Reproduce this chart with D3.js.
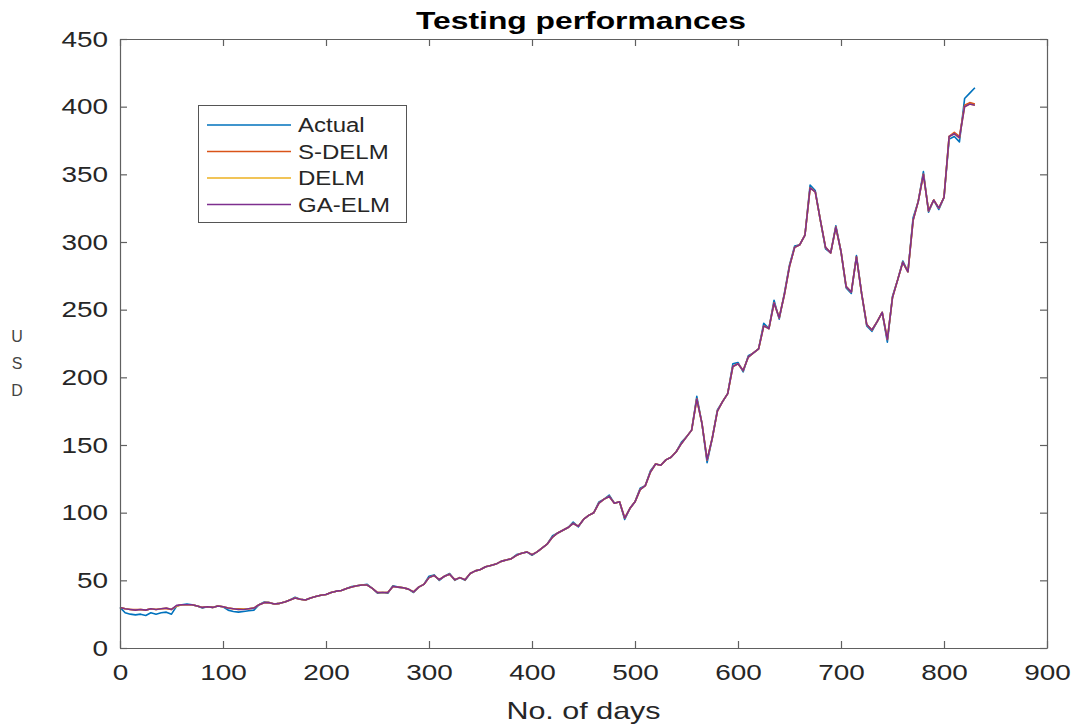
<!DOCTYPE html>
<html>
<head>
<meta charset="utf-8">
<script src="https://cdn.jsdelivr.net/npm/d3@7"></script>
<style>
  html, body { margin: 0; padding: 0; background: #fff; }
  svg { display: block; font-family: "Liberation Sans", Arial, sans-serif; }
</style>
</head>
<body>
<svg id="chart" width="1076" height="726"></svg>
<script>
// ---------------- DATA ----------------
const dayStep = 5;   // one sample every 5 days, starting at day 0
const seriesNames = ["Actual", "S-DELM", "DELM", "GA-ELM"];
const xTicks = [0, 100, 200, 300, 400, 500, 600, 700, 800, 900];
const yTicks = [0, 50, 100, 150, 200, 250, 300, 350, 400, 450];

const actual = [
  30,26,25,24.5,25,24,26,25,26,26.5,25,31,
  32,32.5,32,31,29.5,30.5,30,31,30.5,28,27,26.5,
  27,27.5,28,32,34,33.5,32.5,33,34,35.5,37.5,36,
  35.5,37,38,39,39.5,41,42,42.5,44,45.5,46,46.5,
  47,44,40.5,41,40.5,46,45,44.5,43.5,41,45,47,
  53,54,50,53,55,50,52,50,55,57,58,60,
  61,62,64,65,66,69,70,71,68.5,71,74,77,
  83,85,87,89,93,89.5,95,98,100,108,110,113,
  107,108,95,103,108,118,120,131,136,135,139,141,
  145,152,156,161,186,166,137,155,176,182,188,210,
  211,204,216,218,221,240,236,257,243,262,283,297,
  298,305,342,338,316,295,292,312,293,266,262,290,
  262,238,234,241,248,226,260,272,286,278,318,330,
  352,322,331,324,333,376,378,374,406,410,414
];
const sdelm = [
  30,29,28.5,28.5,28.5,28,29,28.5,29,29,28.5,31,
  32,32,32,31,30,30.5,30,31,30.5,29.5,29,29,
  29,29,29.5,32,33.5,33.5,32.5,33,34,35.5,37,36,
  35.5,37,38,39,39.5,41,42,42.5,44,45,46,46.5,
  46.5,44,41,41,41,45.5,45,44.5,43.5,41.5,45,47,
  52,53.5,50.5,53,54.5,50.5,52,50.5,55,57,58,60,
  61,62,64,65,66,68.5,70,71,69,71,74,77,
  82,85,87,89,92,90,95,98,100,107,110,112,
  107,108,96,103,108,117,120,130,136,135,139,141,
  145,151,156,161,184,166,139,155,175,182,188,208,
  210,205,215,218,221,238,236,255,244,261,282,296,
  298,305,340,337,316,296,292,311,293,267,263,289,
  262,239,235,241,248,228,259,272,285,278,316,330,
  350,323,331,325,333,378,381,378,401,403,402
];
const delm = [
  30,29,28.5,28,28.5,28,29,28.5,29,29.5,28.5,31,
  32,32,32,31,30,30.5,30,31,30.5,29.5,29,28.5,
  29,29,29.5,32,33.5,33.5,32.5,33,34,35.5,37,36,
  35.5,37,38,39,39.5,41,42,42.5,44,45,46,46.5,
  46.5,44,41,41,41,45.5,45,44.5,43.5,41.5,45,47,
  52,53.5,50.5,53,54.5,50.5,52,50.5,55,57,58,60,
  61,62,64,65,66,68.5,70,71,69,71,74,77,
  82,85,87,89,92,90,95,98,100,107,110,112,
  107,108,96,103,108,117,120,130,136,135,139,141,
  145,151,156,161,184,166,139,155,175,182,188,208,
  210,205,215,218,221,238,236,255,244,261,282,296,
  298,305,340,337,316,296,292,311,293,267,263,289,
  262,239,235,241,248,228,259,272,285,278,316,330,
  350,323,331,325,333,378,380,377,400,402,401
];
const gaelm = [
  30,29,28.5,28,28.5,28,29,28.5,29,29.5,28.5,31.5,
  32,32,32,31,30,30.5,30,31,30.5,29.5,29,28.5,
  28.5,29,29.5,32,33.5,33.5,32.5,33,34,35.5,37,36,
  35.5,37,38,39,39.5,41,42,42.5,44,45,46,46.5,
  46.5,44,41,41,41,45.5,45,44.5,43.5,41.5,45,47,
  52,53.5,50.5,53,54.5,50.5,52,50.5,55,57,58,60,
  61,62,64,65,66,68.5,70,71,69,71,74,77,
  82,85,87,89,92,90,95,98,100,107,110,112,
  107,108,96,103,108,117,120,130,136,135,139,141,
  145,151,156,161,184,166,139,155,175,182,188,208,
  210,205,215,218,221,238,236,255,244,261,282,296,
  298,305,340,337,316,296,292,311,293,267,263,289,
  262,239,235,241,248,228,259,272,285,278,316,330,
  350,323,331,325,333,378,380,377,400,402,401
];
const seriesValues = [actual, sdelm, delm, gaelm];
const colors = ["#0072BD", "#D95319", "#EDB120", "#7E2F8E"];

// ---------------- LAYOUT ----------------
const svg = d3.select("#chart");
const margin = { left: 120, top: 39, right: 1047, bottom: 648 };
const stretch = 1.27;   // reference glyphs are horizontally stretched

const x = d3.scaleLinear().domain([0, 900]).range([margin.left, margin.right]);
const y = d3.scaleLinear().domain([0, 450]).range([margin.bottom, margin.top]);

function stretchText(sel, factor) {
  sel.each(function () {
    const len = this.getComputedTextLength();
    d3.select(this).attr("textLength", len * factor).attr("lengthAdjust", "spacingAndGlyphs");
  });
}

// lines
const line = d3.line()
  .x((d, i) => x(i * dayStep))
  .y(d => y(d));

const g = svg.append("g");
seriesValues.forEach((vals, k) => {
  g.append("path")
    .datum(vals)
    .attr("fill", "none")
    .attr("stroke", colors[k])
    .attr("stroke-width", 1.6)
    .attr("stroke-linejoin", "round")
    .attr("d", line);
});

// axes (box with inward ticks)
const axisColor = "#606060";
const tickLen = 7;
function styleAxis(sel) {
  sel.select(".domain").attr("stroke", axisColor).attr("stroke-width", 1.2);
  sel.selectAll(".tick line").attr("stroke", axisColor).attr("stroke-width", 1.2);
  sel.selectAll(".tick text").attr("fill", "#262626").style("font-size", "22px");
}

const xAxis = svg.append("g")
  .attr("transform", `translate(0,${margin.bottom})`)
  .call(d3.axisBottom(x).tickValues(xTicks).tickSizeInner(-tickLen).tickSizeOuter(0).tickPadding(16))
  .call(styleAxis);
xAxis.selectAll(".tick text").call(stretchText, stretch);

const yAxis = svg.append("g")
  .attr("transform", `translate(${margin.left},0)`)
  .call(d3.axisLeft(y).tickValues(yTicks).tickSizeInner(-tickLen).tickSizeOuter(0).tickPadding(12))
  .call(styleAxis);
yAxis.selectAll(".tick text").call(stretchText, stretch);

svg.append("g")
  .attr("transform", `translate(0,${margin.top})`)
  .call(d3.axisTop(x).tickValues(xTicks).tickSizeInner(-tickLen).tickSizeOuter(0).tickFormat(""))
  .call(styleAxis);

svg.append("g")
  .attr("transform", `translate(${margin.right},0)`)
  .call(d3.axisRight(y).tickValues(yTicks).tickSizeInner(-tickLen).tickSizeOuter(0).tickFormat(""))
  .call(styleAxis);

// title
svg.append("text")
  .attr("x", 581)
  .attr("y", 29)
  .attr("text-anchor", "middle")
  .attr("font-weight", "bold")
  .attr("fill", "#000")
  .style("font-size", "23px")
  .attr("textLength", 330)
  .attr("lengthAdjust", "spacingAndGlyphs")
  .text("Testing performances");

// x label
svg.append("text")
  .attr("x", (margin.left + margin.right) / 2)
  .attr("y", 719)
  .attr("text-anchor", "middle")
  .attr("fill", "#262626")
  .style("font-size", "24px")
  .text("No. of days")
  .call(stretchText, stretch);

// y label: stacked letters
const yLabelLetters = ["U", "S", "D"];
svg.append("g").selectAll("text")
  .data(yLabelLetters)
  .join("text")
  .attr("x", 17)
  .attr("y", (d, i) => 342 + i * 27)
  .attr("text-anchor", "middle")
  .attr("fill", "#444")
  .style("font-size", "16px")
  .text(d => d);

// legend
const lg = svg.append("g");
lg.append("rect")
  .attr("x", 198.5).attr("y", 105.5)
  .attr("width", 208).attr("height", 117)
  .attr("fill", "#fff")
  .attr("stroke", "#555")
  .attr("stroke-width", 1);
seriesNames.forEach((name, k) => {
  const cy = 125 + k * 26.5;
  lg.append("line")
    .attr("x1", 207).attr("x2", 291)
    .attr("y1", cy).attr("y2", cy)
    .attr("stroke", colors[k])
    .attr("stroke-width", 1.3);
  lg.append("text")
    .attr("x", 298)
    .attr("y", cy + 7)
    .attr("fill", "#262626")
    .style("font-size", "20px")
    .text(name)
    .call(stretchText, 1.2);
});
</script>
</body>
</html>
